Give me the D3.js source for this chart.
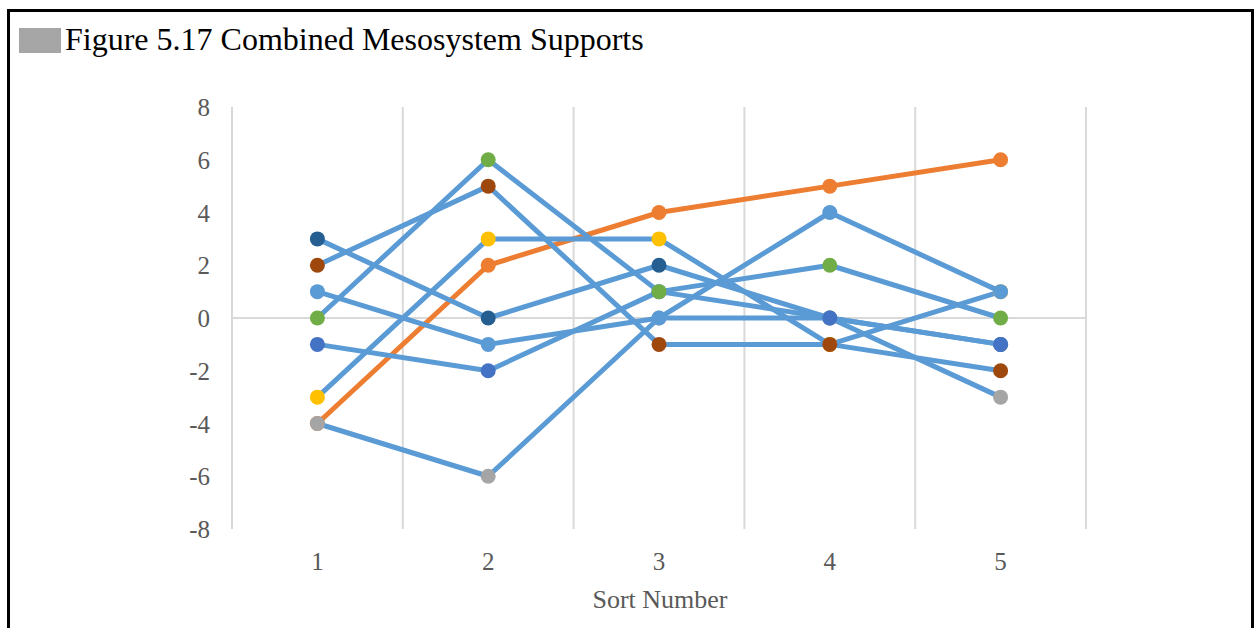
<!DOCTYPE html>
<html>
<head>
<meta charset="utf-8">
<script src="https://cdn.jsdelivr.net/npm/d3@7"></script>
<style>
  html, body { margin: 0; padding: 0; background: #fff; }
  svg { display: block; }
  text { font-family: "Liberation Serif", "Times New Roman", serif; }
</style>
</head>
<body>
<svg id="chart" width="1256" height="628"></svg>
<script>
// ---- data ----
const categories = [1, 2, 3, 4, 5];
const yTicks = [-8, -6, -4, -2, 0, 2, 4, 6, 8];
const titleText = "Figure 5.17 Combined Mesosystem Supports";
const xTitle = "Sort Number";

// series in drawing order (later ones on top)
const seriesNames = ["G", "F", "A", "H", "E", "D", "C", "B"];
const seriesG = [-4, 2, 4, 5, 6];
const seriesF = [-3, 3, 3, -1, 1];
const seriesA = [3, 0, 2, 0, -1];
const seriesH = [-4, -6, 0, 0, -3];
const seriesE = [-1, -2, 1, 0, -1];
const seriesD = [0, 6, 1, 2, 0];
const seriesC = [1, -1, 0, 4, 1];
const seriesB = [2, 5, -1, -1, -2];
const seriesValues = [seriesG, seriesF, seriesA, seriesH, seriesE, seriesD, seriesC, seriesB];
const lineColors = ["#ED7D31", "#5B9BD5", "#5B9BD5", "#5B9BD5", "#5B9BD5", "#5B9BD5", "#5B9BD5", "#5B9BD5"];
const markerColors = ["#ED7D31", "#FFC000", "#255E91", "#A5A5A5", "#4472C4", "#70AD47", "#5B9BD5", "#9E480E"];

// ---- layout ----
const svg = d3.select("#chart");
const plot = { left: 232, right: 1086, top: 107, bottom: 529 };

const x = d3.scaleBand().domain(categories).range([plot.left, plot.right]).padding(0);
const y = d3.scaleLinear().domain([-8, 8]).range([plot.bottom, plot.top]);

// frame
svg.append("rect")
  .attr("x", 8.5).attr("y", 10.5)
  .attr("width", 1244).attr("height", 640)
  .attr("fill", "none").attr("stroke", "#000").attr("stroke-width", 3);

// title
svg.append("rect").attr("x", 19).attr("y", 28).attr("width", 42).attr("height", 25).attr("fill", "#A6A6A6");
svg.append("text").attr("x", 65).attr("y", 50)
  .attr("font-size", 32).attr("fill", "#000").text(titleText);

// vertical gridlines at category boundaries
const bounds = categories.map(c => x(c)).concat([x(categories[categories.length - 1]) + x.bandwidth()]);
svg.append("g").selectAll("line").data(bounds).join("line")
  .attr("x1", d => d).attr("x2", d => d)
  .attr("y1", plot.top).attr("y2", plot.bottom)
  .attr("stroke", "#D9D9D9").attr("stroke-width", 2);

// horizontal axis line at 0
svg.append("line")
  .attr("x1", plot.left).attr("x2", plot.right)
  .attr("y1", y(0)).attr("y2", y(0))
  .attr("stroke", "#D9D9D9").attr("stroke-width", 2);

// y axis labels (hyphen-minus as in the reference)
const yAxis = d3.axisLeft(y).tickValues(yTicks).tickSize(0).tickPadding(0).tickFormat(d => String(d));
const yg = svg.append("g").attr("transform", `translate(${plot.left - 22},0)`).call(yAxis);
yg.select(".domain").remove();
yg.selectAll("text").attr("font-size", 25).attr("fill", "#595959")
  .attr("font-family", "Liberation Serif, Times New Roman, serif").attr("dy", "0.34em");

// x axis labels
const xAxis = d3.axisBottom(x).tickSize(0).tickPadding(0);
const xg = svg.append("g").attr("transform", `translate(0,${plot.bottom + 23})`).call(xAxis);
xg.select(".domain").remove();
xg.selectAll("text").attr("font-size", 25).attr("fill", "#595959")
  .attr("font-family", "Liberation Serif, Times New Roman, serif").attr("dy", "0.71em");

// x axis title
svg.append("text")
  .attr("x", (plot.left + plot.right) / 2 + 1).attr("y", 608)
  .attr("text-anchor", "middle").attr("font-size", 26).attr("fill", "#595959")
  .text(xTitle);

// series
const line = d3.line().x((d, i) => x(categories[i]) + x.bandwidth() / 2).y(d => y(d));
seriesValues.forEach((vals, si) => {
  const g = svg.append("g").attr("class", "series-" + seriesNames[si]);
  g.append("path").datum(vals).attr("d", line)
    .attr("fill", "none").attr("stroke", lineColors[si])
    .attr("stroke-width", 5).attr("stroke-linejoin", "round").attr("stroke-linecap", "round");
  g.selectAll("circle").data(vals).join("circle")
    .attr("cx", (d, i) => x(categories[i]) + x.bandwidth() / 2)
    .attr("cy", d => y(d))
    .attr("r", 7.5)
    .attr("fill", markerColors[si]);
});
</script>
</body>
</html>
